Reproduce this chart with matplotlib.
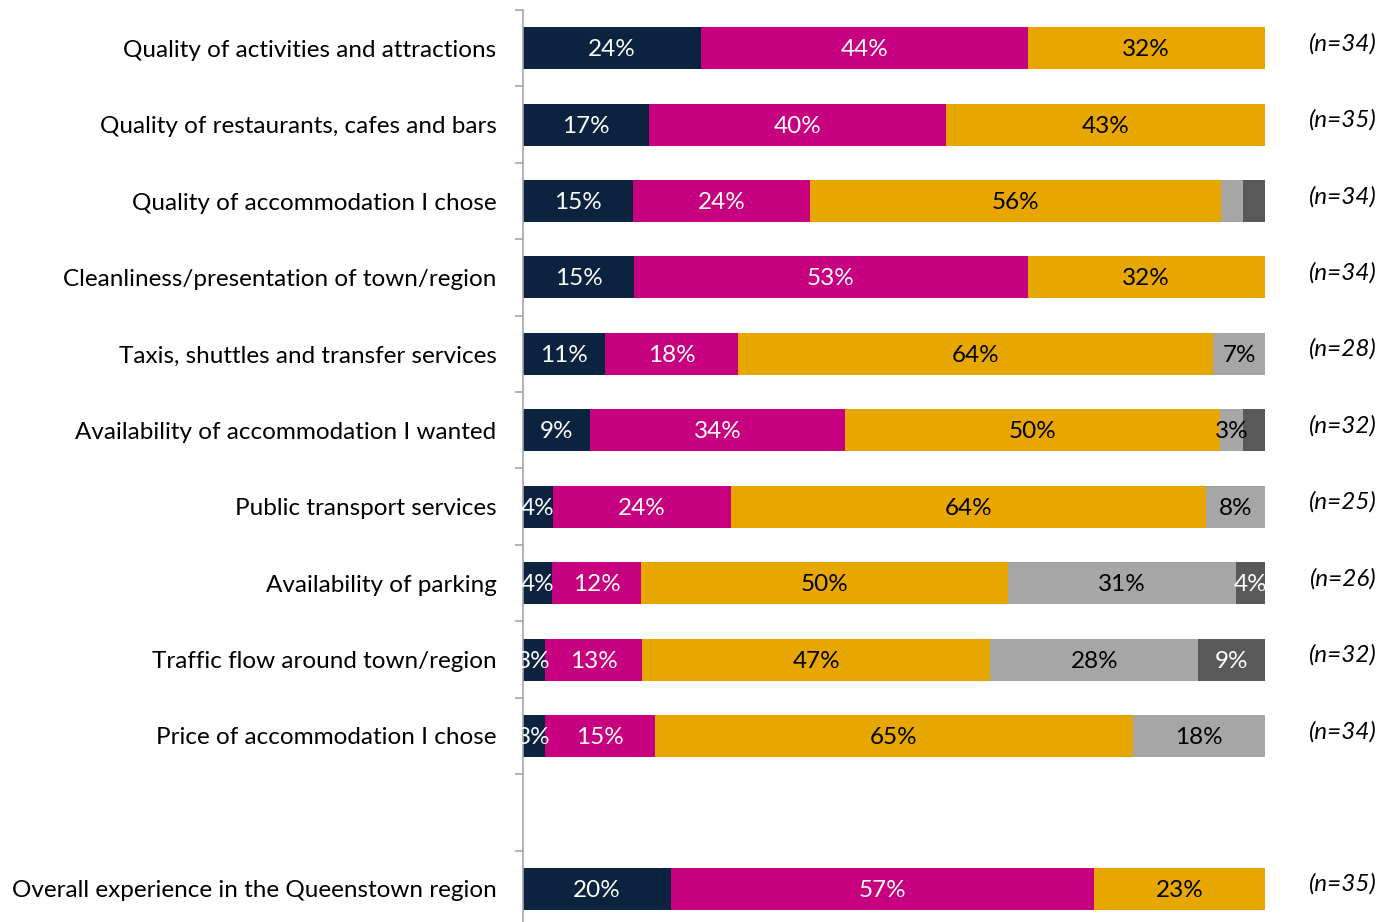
import numpy as np
import matplotlib.pyplot as plt

plt.rcParams['font.family'] = ['Lato', 'DejaVu Sans']

# Categories (top to bottom); '' is the blank spacer row
categories = [
    'Quality of activities and attractions',
    'Quality of restaurants, cafes and bars',
    'Quality of accommodation I chose',
    'Cleanliness/presentation of town/region',
    'Taxis, shuttles and transfer services',
    'Availability of accommodation I wanted',
    'Public transport services',
    'Availability of parking',
    'Traffic flow around town/region',
    'Price of accommodation I chose',
    '',
    'Overall experience in the Queenstown region',
]

# Percentages per rating band (None for the blank row)
seg1 = [24, 17, 15, 15, 11, 9, 4, 4, 3, 3, None, 20]
seg2 = [44, 40, 24, 53, 18, 34, 24, 12, 13, 15, None, 57]
seg3 = [32, 43, 56, 32, 64, 50, 64, 50, 47, 65, None, 23]
seg4 = [0, 0, 3, 0, 7, 3, 8, 31, 28, 18, None, 0]
seg5 = [0, 0, 3, 0, 0, 3, 0, 4, 9, 0, None, 0]

# which segment labels are shown (small grey bits are sometimes unlabeled)
show4 = [False, False, False, False, True, True, True, True, True, True, False, False]
show5 = [False, False, False, False, False, False, False, True, True, False, False, False]

n_counts = ['(n=34)', '(n=35)', '(n=34)', '(n=34)', '(n=28)', '(n=32)',
            '(n=25)', '(n=26)', '(n=32)', '(n=34)', '', '(n=35)']

colors = ['#0C2340', '#C6007E', '#E8A600', '#A6A6A6', '#595959']
text_colors = ['white', 'white', 'black', 'black', 'white']

fig = plt.figure(figsize=(13.92, 9.22), dpi=100)
ax = fig.add_axes([523 / 1392, -5 / 922, 742 / 1392, 917 / 922])

segs = [seg1, seg2, seg3, seg4, seg5]
for i in range(len(categories)):
    if seg1[i] is None:
        continue
    vals = np.array([s[i] for s in segs], dtype=float)
    vals = vals / vals.sum() * 100
    left = 0
    for k, v in enumerate(vals):
        if v > 0:
            ax.barh(i, v, left=left, height=0.55, color=colors[k], edgecolor='none')
            show = True
            if k == 3:
                show = show4[i]
            if k == 4:
                show = show5[i]
            if show:
                ax.text(left + v / 2, i + 0.02, f'{segs[k][i]}%', ha='center', va='center',
                        color=text_colors[k], fontsize=17.5, clip_on=False)
        left += v
    ax.text(110.5, i - 0.06, n_counts[i], ha='center', va='center',
            fontsize=17.5, style='italic', clip_on=False)

ax.set_xlim(0, 100)
ax.set_ylim(11.5, -0.5)
ax.set_yticks(range(len(categories)))
ax.set_yticklabels(categories, fontsize=17.5)
ax.set_yticks(np.arange(-0.5, 11, 1.0), minor=True)
ax.tick_params(axis='y', which='major', length=0, pad=19)
ax.tick_params(axis='y', which='minor', length=6, width=1.2, color='#A6A6A6')
ax.set_xticks([])
for s in ['top', 'right', 'bottom']:
    ax.spines[s].set_visible(False)
ax.spines['left'].set_color('#A6A6A6')
ax.spines['left'].set_linewidth(1.2)

fig.savefig('out.png', dpi=100)
